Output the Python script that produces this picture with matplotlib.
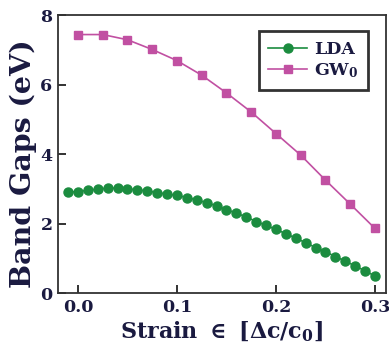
import matplotlib
matplotlib.use("Agg")
import matplotlib.pyplot as plt
import numpy as np

# Data
lda_strain = [-0.01, 0.00, 0.01, 0.02, 0.03, 0.04, 0.05, 0.06, 0.07, 0.08, 0.09,
              0.10, 0.11, 0.12, 0.13, 0.14, 0.15, 0.16, 0.17, 0.18, 0.19, 0.20,
              0.21, 0.22, 0.23, 0.24, 0.25, 0.26, 0.27, 0.28, 0.29, 0.30]
lda_gap = [2.91, 2.92, 2.96, 2.99, 3.02, 3.02, 3.00, 2.97, 2.94, 2.89, 2.85,
           2.81, 2.75, 2.68, 2.60, 2.51, 2.40, 2.30, 2.19, 2.06, 1.95, 1.83,
           1.71, 1.58, 1.45, 1.31, 1.19, 1.05, 0.92, 0.78, 0.64, 0.49]
gw_strain = [0.000, 0.025, 0.050, 0.075, 0.100, 0.125, 0.150, 0.175, 0.200,
             0.225, 0.250, 0.275, 0.300]
gw_gap = [7.44, 7.44, 7.29, 7.01, 6.69, 6.27, 5.76, 5.21, 4.59, 3.97, 3.25, 2.56, 1.86]
xticks = [0.0, 0.1, 0.2, 0.3]
yticks = [0, 2, 4, 6, 8]

green = '#1b8c3f'
magenta = '#c150a2'
txt = '#1a1a40'

plt.rcParams['font.family'] = ['DejaVu Serif']
plt.rcParams['mathtext.fontset'] = 'custom'
plt.rcParams['mathtext.rm'] = 'DejaVu Serif:bold'
plt.rcParams['mathtext.it'] = 'DejaVu Serif:bold'
plt.rcParams['mathtext.bf'] = 'DejaVu Serif:bold'

fig = plt.figure(figsize=(3.89, 3.51), dpi=100)
ax = fig.add_axes([0.149, 0.165, 0.843, 0.792])

ax.plot(lda_strain, lda_gap, '-o', color=green, ms=6.5, lw=1.2, mec=green, label='LDA')
ax.plot(gw_strain, gw_gap, '-s', color=magenta, ms=6.3, lw=1.2, mec=magenta, label=r'GW$_\mathbf{0}$')

ax.set_xlim(-0.0202, 0.311)
ax.set_ylim(0, 8)
ax.set_xticks(xticks)
ax.set_xticklabels([f'{v:.1f}' for v in xticks])
ax.set_yticks(yticks)
ax.set_yticklabels([str(v) for v in yticks])
ax.tick_params(direction='in', length=6, width=1.3, labelsize=12.5, colors='#222222',
               labelcolor=txt, pad=4)
for lab in ax.get_xticklabels() + ax.get_yticklabels():
    lab.set_fontweight('bold')
for s in ax.spines.values():
    s.set_linewidth(1.3)
    s.set_color('#333333')

ax.set_xlabel(r'Strain $\in$ [$\Delta$c/c$_\mathbf{0}$]', fontsize=16, fontweight='bold',
              color=txt, labelpad=3)
ax.set_ylabel('Band Gaps (eV)', fontsize=20.5, fontweight='bold', color=txt, labelpad=2,
              y=0.466)

leg = ax.legend(loc='upper right', bbox_to_anchor=(0.96, 0.96),
                prop={'weight': 'bold', 'size': 12.5}, frameon=True, fancybox=False,
                handlelength=2.2, handletextpad=0.4, borderpad=0.55, labelspacing=0.2,
                borderaxespad=0.3)
leg.get_frame().set_edgecolor('black')
leg.get_frame().set_linewidth(2.0)
for t in leg.get_texts():
    t.set_color(txt)

fig.savefig('out.png', dpi=100)
